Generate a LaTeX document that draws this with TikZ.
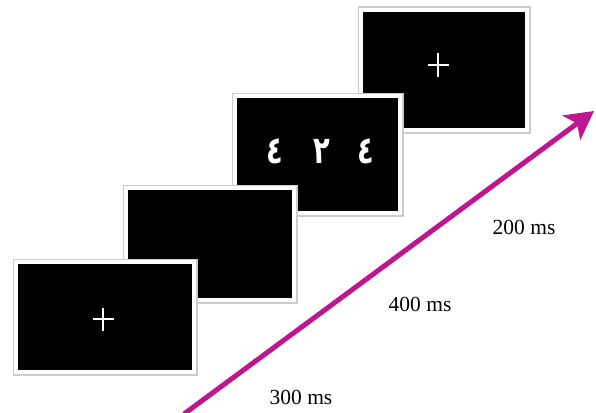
\documentclass[tikz,border=0pt]{standalone}
\usepackage{fontspec}
\setmainfont{Liberation Serif}
\newfontfamily\arabicfont[Script=Arabic, FakeStretch=0.72]{DejaVu Sans}
\usetikzlibrary{arrows.meta}
\definecolor{arrowmag}{RGB}{190,22,142}
\tikzset{
  frame/.style={rectangle, inner sep=0pt, fill=black,
    preaction={draw=black!20, line width=11pt},
    preaction={draw=white, line width=8.5pt}},
  cross/.style={draw=white, line width=2.6pt},
  digit/.style={text=white, inner sep=0pt, font=\arabicfont\bfseries\fontsize{38}{38}\selectfont},
  timelabel/.style={inner sep=0pt, font=\fontsize{21.5}{21.5}\selectfont},
  timearrow/.style={draw=arrowmag, line width=5pt, -{Stealth[length=28pt, width=30pt, inset=7pt]}}
}
\begin{document}
\begin{tikzpicture}[x=1pt, y=-1pt]
\useasboundingbox (0,0) rectangle (596,412);
% frames, back to front
\node[frame, minimum width=162pt, minimum height=116pt] (f4) at (444,70) {};
\node[frame, minimum width=161pt, minimum height=113pt] (f3) at (317.5,154.5) {};
\node[frame, minimum width=164pt, minimum height=108pt] (f2) at (210,244) {};
\node[frame, minimum width=174pt, minimum height=106pt] (f1) at (105,317) {};
% fixation crosses
\coordinate (c1) at (103,319);
\coordinate (c4) at (438,65);
\draw[cross] ([xshift=-10.5pt]c1) -- ([xshift=10.5pt]c1);
\draw[cross] ([yshift=-11.5pt]c1) -- ([yshift=11.5pt]c1);
\draw[cross] ([xshift=-10.5pt]c4) -- ([xshift=10.5pt]c4);
\draw[cross] ([yshift=-12pt]c4) -- ([yshift=12pt]c4);
% digits
\node[digit] (d1) at (275,151) {٤};
\node[digit] (d2) at (322,151) {٢};
\node[digit] (d3) at (366,151) {٤};
% time arrow
\coordinate (a0) at (184,414);
\coordinate (a1) at (594,111);
\draw[timearrow] (a0) -- (a1);
% labels
\node[timelabel] (t1) at (524,227) {200 ms};
\node[timelabel] (t2) at (420,304) {400 ms};
\node[timelabel] (t3) at (301,397) {300 ms};
\end{tikzpicture}
\end{document}
